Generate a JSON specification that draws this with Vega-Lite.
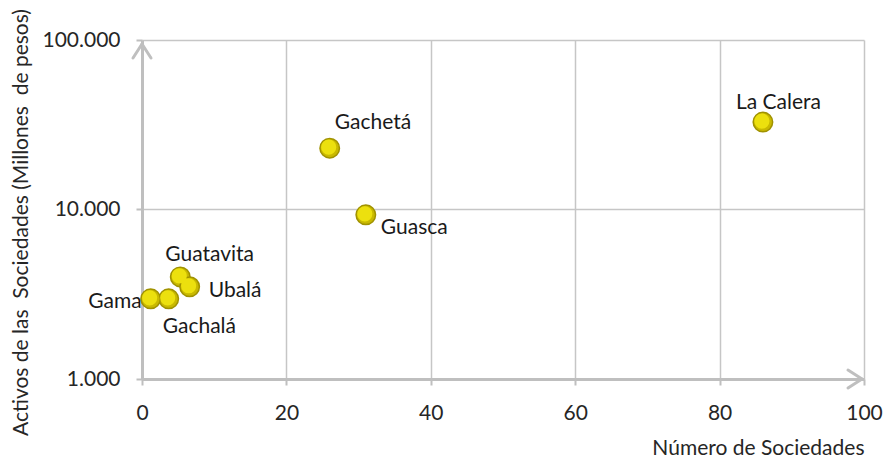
{
  "$schema": "https://vega.github.io/schema/vega-lite/v6.json",
  "width": 722,
  "height": 339,
  "autosize": {"type": "none"},
  "padding": {"left": 142, "top": 40, "right": 26, "bottom": 84},
  "background": "white",
  "config": {
    "view": {"stroke": null},
    "font": "Lato",
    "axis": {
      "labelFont": "Lato",
      "titleFont": "Lato",
      "labelColor": "#262626",
      "titleColor": "#262626",
      "titleFontWeight": "normal",
      "gridColor": "#c6c6c6",
      "gridWidth": 1.5,
      "domainColor": "#bfbfbf",
      "domainWidth": 3,
      "tickColor": "#bfbfbf",
      "tickWidth": 2,
      "tickSize": 6,
      "labelFlush": false
    }
  },
  "data": {
    "values": [
      {"municipio": "La Calera", "sociedades": 86, "activos": 32800},
      {"municipio": "Gachetá", "sociedades": 26, "activos": 23000},
      {"municipio": "Guasca", "sociedades": 31, "activos": 9300},
      {"municipio": "Guatavita", "sociedades": 5.3, "activos": 4000},
      {"municipio": "Ubalá", "sociedades": 6.6, "activos": 3500},
      {"municipio": "Gachalá", "sociedades": 3.7, "activos": 2970},
      {"municipio": "Gama", "sociedades": 1.2, "activos": 2970}
    ]
  },
  "encoding": {
    "x": {
      "field": "sociedades",
      "type": "quantitative",
      "scale": {"domain": [0, 100], "nice": false, "zero": false},
      "axis": {
        "values": [0, 20, 40, 60, 80, 100],
        "title": "Número de Sociedades",
        "titleFontSize": 21,
        "titleAnchor": "end",
        "titlePadding": 14,
        "labelFontSize": 21,
        "labelPadding": 17,
        "labelFlush": false,
        "grid": true
      }
    },
    "y": {
      "field": "activos",
      "type": "quantitative",
      "scale": {"type": "log", "domain": [1000, 100000], "nice": false},
      "axis": {
        "values": [1000, 10000, 100000],
        "labelExpr": "replace(format(datum.value, ','), ',', '.')",
        "title": "Activos de las \u00a0Sociedades (Millones \u00a0de pesos)",
        "titleFontSize": 21,
        "titleX": -121,
        "titleY": 182,
        "titleBaseline": "middle",
        "labelFontSize": 21,
        "labelPadding": 16,
        "labelFlush": false,
        "grid": true
      }
    }
  },
  "layer": [
    {
      "mark": {"type": "circle", "size": 380, "fill": "#c9b900", "stroke": "#a09200", "strokeWidth": 1.5, "opacity": 1}
    },
    {
      "mark": {"type": "circle", "size": 230, "fill": "#ece00e", "opacity": 1, "xOffset": -1, "yOffset": -1}
    },
    {
      "transform": [{"filter": "datum.municipio == 'Gama'"}],
      "mark": {"type": "rule", "color": "#bfbfbf", "strokeWidth": 3, "strokeCap": "round", "xOffset": -2, "x2Offset": -16, "y2Offset": -9},
      "encoding": {"x": {"datum": 100}, "y": {"datum": 1000}, "x2": {"datum": 100}, "y2": {"datum": 1000}}
    },
    {
      "transform": [{"filter": "datum.municipio == 'Gama'"}],
      "mark": {"type": "rule", "color": "#bfbfbf", "strokeWidth": 3, "strokeCap": "round", "xOffset": -2, "x2Offset": -16, "y2Offset": 9},
      "encoding": {"x": {"datum": 100}, "y": {"datum": 1000}, "x2": {"datum": 100}, "y2": {"datum": 1000}}
    },
    {
      "transform": [{"filter": "datum.municipio == 'Gama'"}],
      "mark": {"type": "rule", "color": "#bfbfbf", "strokeWidth": 3, "strokeCap": "round", "yOffset": 4, "x2Offset": -9, "y2Offset": 18},
      "encoding": {"x": {"datum": 0}, "y": {"datum": 100000}, "x2": {"datum": 0}, "y2": {"datum": 100000}}
    },
    {
      "transform": [{"filter": "datum.municipio == 'Gama'"}],
      "mark": {"type": "rule", "color": "#bfbfbf", "strokeWidth": 3, "strokeCap": "round", "yOffset": 4, "x2Offset": 9, "y2Offset": 18},
      "encoding": {"x": {"datum": 0}, "y": {"datum": 100000}, "x2": {"datum": 0}, "y2": {"datum": 100000}}
    },
    {
      "transform": [{"filter": "datum.municipio == 'La Calera'"}],
      "mark": {"type": "text", "align": "left", "baseline": "middle", "dx": -27, "dy": -19, "fontSize": 21, "color": "#1a1a1a"},
      "encoding": {"text": {"field": "municipio"}}
    },
    {
      "transform": [{"filter": "datum.municipio == 'Gachetá'"}],
      "mark": {"type": "text", "align": "left", "baseline": "middle", "dx": 5, "dy": -25, "fontSize": 21, "color": "#1a1a1a"},
      "encoding": {"text": {"field": "municipio"}}
    },
    {
      "transform": [{"filter": "datum.municipio == 'Guasca'"}],
      "mark": {"type": "text", "align": "left", "baseline": "middle", "dx": 15, "dy": 13, "fontSize": 21, "color": "#1a1a1a"},
      "encoding": {"text": {"field": "municipio"}}
    },
    {
      "transform": [{"filter": "datum.municipio == 'Guatavita'"}],
      "mark": {"type": "text", "align": "left", "baseline": "middle", "dx": -15, "dy": -22, "fontSize": 21, "color": "#1a1a1a"},
      "encoding": {"text": {"field": "municipio"}}
    },
    {
      "transform": [{"filter": "datum.municipio == 'Ubalá'"}],
      "mark": {"type": "text", "align": "left", "baseline": "middle", "dx": 19, "dy": 4, "fontSize": 21, "color": "#1a1a1a"},
      "encoding": {"text": {"field": "municipio"}}
    },
    {
      "transform": [{"filter": "datum.municipio == 'Gachalá'"}],
      "mark": {"type": "text", "align": "left", "baseline": "middle", "dx": -6, "dy": 28, "fontSize": 21, "color": "#1a1a1a"},
      "encoding": {"text": {"field": "municipio"}}
    },
    {
      "transform": [{"filter": "datum.municipio == 'Gama'"}],
      "mark": {"type": "text", "align": "right", "baseline": "middle", "dx": -9, "dy": 3, "fontSize": 21, "color": "#1a1a1a"},
      "encoding": {"text": {"field": "municipio"}}
    }
  ]
}
